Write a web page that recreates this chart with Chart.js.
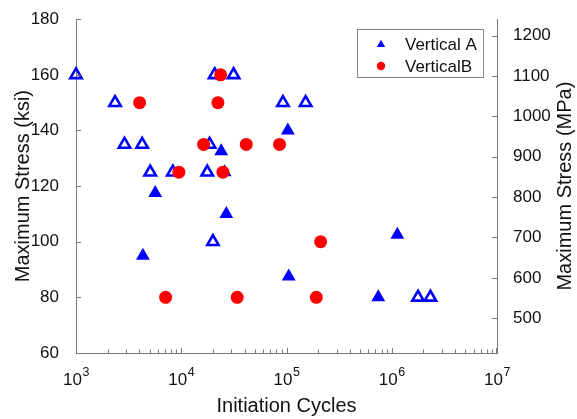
<!DOCTYPE html>
<html>
<head>
<meta charset="utf-8">
<script src="https://cdn.jsdelivr.net/npm/chart.js@4.4.1/dist/chart.umd.min.js"></script>
<style>
  html, body { margin: 0; padding: 0; background: #ffffff; overflow: hidden; }
  canvas { display: block; }
</style>
</head>
<body>
<canvas id="fatigue" width="577" height="419"></canvas>
<script>
// Vertical A, filled markers
const vaSolidCycles = [5660, 23970, 25800, 103000, 26800, 4320, 105000, 1130000, 745000];
const vaSolidStress = [117.5, 132.5, 125, 140, 110, 95, 87.5, 102.5, 80];

// Vertical A, open markers
const vaOpenCycles = [1000, 2350, 2890, 4250, 5070, 8320, 17660, 18590, 20750, 31400, 92500, 152000, 20000, 1775000, 2330000];
const vaOpenStress = [160, 150, 135, 135, 125, 125, 125, 135, 160, 160, 150, 150, 100, 80, 80];

// Vertical B
const vbCycles = [4020, 9490, 16300, 24900, 23660, 22300, 41500, 85900, 7100, 34000, 211000, 192000];
const vbStress = [150, 125, 135, 125, 160, 150, 135, 135, 80, 80, 100, 80];

const seriesNames = ['Vertical A', 'VerticalB'];
const xTickValues = [1e3, 1e4, 1e5, 1e6, 1e7];
const xTickExponents = ['3', '4', '5', '6', '7'];
const ksiTicks = [60, 80, 100, 120, 140, 160, 180];
const mpaTicks = [500, 600, 700, 800, 900, 1000, 1100, 1200];
const xTitle = 'Initiation Cycles';
const leftTitle = 'Maximum Stress (ksi)';
const rightTitle = 'Maximum Stress (MPa)';
const KSI_TO_MPA = 6.89476;

const FONT = '"Liberation Sans", Arial, sans-serif';
const AXIS_COLOR = '#7a7a7a';
const TEXT_COLOR = '#111111';
const BLUE = '#0000ff';
const RED = '#ff0000';

const toPoints = (xs, ys) => xs.map((x, i) => ({ x, y: ys[i] }));

// Inward tick marks, superscript decade labels, right-hand title and boxed legend
const axisDecor = {
  id: 'axisDecor',
  afterDraw(chart) {
    const { ctx, chartArea: a, scales } = chart;
    const xs = scales.x, yl = scales.y, yr = scales.y2;
    ctx.save();

    ctx.strokeStyle = AXIS_COLOR;
    ctx.lineWidth = 1;
    ctx.beginPath();
    for (let e = 3; e <= 6; e++) {
      for (let k = 1; k <= 9; k++) {
        const px = Math.round(xs.getPixelForValue(k * Math.pow(10, e))) + 0.5;
        const len = k === 1 ? 5 : 3.5;
        ctx.moveTo(px, a.bottom);
        ctx.lineTo(px, a.bottom - len);
      }
    }
    const pEnd = Math.round(xs.getPixelForValue(1e7)) - 0.5;
    ctx.moveTo(pEnd, a.bottom);
    ctx.lineTo(pEnd, a.bottom - 5);
    ksiTicks.forEach(v => {
      const py = Math.round(yl.getPixelForValue(v)) + 0.5;
      ctx.moveTo(a.left, py);
      ctx.lineTo(a.left + 5, py);
    });
    mpaTicks.forEach(v => {
      const py = Math.round(yr.getPixelForValue(v)) + 0.5;
      ctx.moveTo(a.right, py);
      ctx.lineTo(a.right - 5, py);
    });
    ctx.stroke();

    // decade labels 10^n
    ctx.fillStyle = TEXT_COLOR;
    ctx.textBaseline = 'alphabetic';
    ctx.textAlign = 'left';
    xTickValues.forEach((v, i) => {
      const px = xs.getPixelForValue(v);
      ctx.font = '17px ' + FONT;
      const wb = ctx.measureText('10').width;
      ctx.font = '12.5px ' + FONT;
      const we = ctx.measureText(xTickExponents[i]).width;
      const x0 = px - (wb + we) / 2;
      ctx.font = '17px ' + FONT;
      ctx.fillText('10', x0, 385);
      ctx.font = '12.5px ' + FONT;
      ctx.fillText(xTickExponents[i], x0 + wb + 0.5, 376);
    });

    // right axis title, reading bottom to top
    ctx.save();
    ctx.translate(565, (a.top + a.bottom) / 2);
    ctx.rotate(-Math.PI / 2);
    ctx.font = '20px ' + FONT;
    ctx.textAlign = 'center';
    ctx.textBaseline = 'middle';
    ctx.fillText(rightTitle, 0, 0);
    ctx.restore();

    // legend box
    const bx = 357, by = 29, bw = 126, bh = 48;
    ctx.fillStyle = '#ffffff';
    ctx.fillRect(bx, by, bw, bh);
    ctx.strokeStyle = '#858585';
    ctx.strokeRect(bx + 0.5, by + 0.5, bw, bh);
    const rows = [
      { label: seriesNames[0], y: 44, style: 'triangle', color: BLUE, r: 4.8 },
      { label: seriesNames[1], y: 66, style: 'circle', color: RED, r: 4.2 }
    ];
    rows.forEach(row => {
      ctx.fillStyle = row.color;
      ctx.beginPath();
      if (row.style === 'triangle') {
        const cx = 381, cy = row.y + 0.5;
        ctx.moveTo(cx, cy - row.r);
        ctx.lineTo(cx + row.r * 0.866, cy + row.r * 0.5);
        ctx.lineTo(cx - row.r * 0.866, cy + row.r * 0.5);
        ctx.closePath();
      } else {
        ctx.arc(381, row.y, row.r, 0, Math.PI * 2);
      }
      ctx.fill();
      ctx.fillStyle = TEXT_COLOR;
      ctx.font = '17px ' + FONT;
      ctx.textAlign = 'left';
      ctx.textBaseline = 'middle';
      ctx.fillText(row.label, 405, row.y + 1);
    });

    ctx.restore();
  }
};

new Chart(document.getElementById('fatigue'), {
  type: 'scatter',
  data: {
    datasets: [
      {
        label: seriesNames[1],
        data: toPoints(vbCycles, vbStress),
        pointStyle: 'circle',
        pointRadius: 6.5,
        backgroundColor: RED,
        borderColor: RED,
        borderWidth: 0,
        order: 0,
        clip: false
      },
      {
        label: seriesNames[0],
        data: toPoints(vaOpenCycles, vaOpenStress),
        pointStyle: 'triangle',
        pointRadius: 6.6,
        backgroundColor: 'rgba(255,255,255,0)',
        borderColor: BLUE,
        borderWidth: 2.6,
        order: 1,
        clip: false
      },
      {
        label: seriesNames[0],
        data: toPoints(vaSolidCycles, vaSolidStress),
        pointStyle: 'triangle',
        pointRadius: 8,
        backgroundColor: BLUE,
        borderColor: BLUE,
        borderWidth: 0,
        order: 2,
        clip: false
      }
    ]
  },
  options: {
    responsive: false,
    animation: false,
    events: [],
    layout: { padding: { top: 16, left: 0, right: 0, bottom: 0 } },
    plugins: { legend: { display: false }, tooltip: { enabled: false } },
    scales: {
      x: {
        type: 'logarithmic',
        min: 1e3,
        max: 1e7,
        afterBuildTicks: s => { s.ticks = xTickValues.map(v => ({ value: v })); },
        afterFit: s => { s.height = 66; },
        grid: { display: false },
        border: { display: true, color: AXIS_COLOR, width: 1 },
        ticks: { display: false },
        title: {
          display: true,
          text: xTitle,
          color: TEXT_COLOR,
          font: { family: FONT, size: 20 },
          padding: { top: 0, bottom: 1 }
        }
      },
      y: {
        type: 'linear',
        position: 'left',
        min: 60,
        max: 180,
        afterBuildTicks: s => { s.ticks = ksiTicks.map(v => ({ value: v })); },
        afterFit: s => { s.width = 76; },
        grid: { display: false },
        border: { display: true, color: AXIS_COLOR, width: 1 },
        ticks: { color: TEXT_COLOR, font: { family: FONT, size: 17 }, padding: 9, callback: v => String(v) },
        title: {
          display: true,
          text: leftTitle,
          color: TEXT_COLOR,
          font: { family: FONT, size: 20 },
          padding: { top: 11, bottom: 0 }
        }
      },
      y2: {
        type: 'linear',
        position: 'right',
        min: 60 * KSI_TO_MPA,
        max: 180 * KSI_TO_MPA,
        afterBuildTicks: s => { s.ticks = mpaTicks.map(v => ({ value: v })); },
        afterFit: s => { s.width = 80; },
        grid: { display: false },
        border: { display: true, color: AXIS_COLOR, width: 1 },
        ticks: { color: TEXT_COLOR, font: { family: FONT, size: 17 }, padding: 8, callback: v => String(v) }
      }
    }
  },
  plugins: [axisDecor]
});
</script>
</body>
</html>
